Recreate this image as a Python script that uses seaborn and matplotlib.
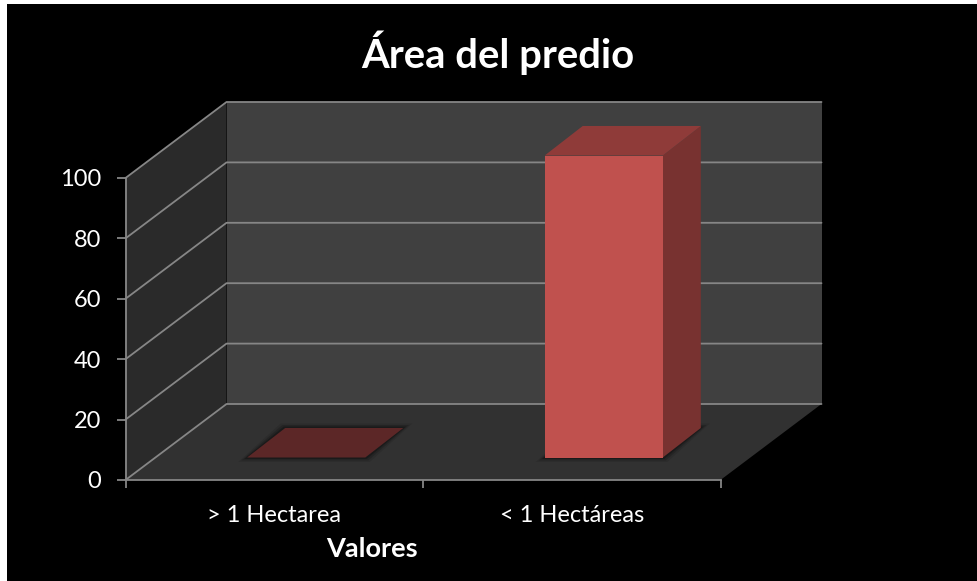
import matplotlib
matplotlib.use("Agg")
import matplotlib.pyplot as plt
import matplotlib.transforms as mtrans
from matplotlib.patches import Polygon, Rectangle
import seaborn as sns

# Data

categories = ["> 1 Hectarea", "< 1 Hectáreas"]
values = [0, 100]
y_ticks = [0, 20, 40, 60, 80, 100]

title = "Área del predio"
x_title = "Valores"

# Colours

front_colors = ["#c0514e", "#c0514e"]
top_colors = ["#5c2727", "#8f3b39"]
side_color = "#783230"
line_color = "#868686"

# Depth of the fake 3D box, in pixels

wall_dx, wall_dy = 101, 76
bar_dx, bar_dy = 32, 22.5
face_dx, face_dy = 38, 29.5

sns.set_theme(style="white")
plt.rcParams["font.family"] = ["Lato", "DejaVu Sans"]

fig = plt.figure(figsize=(9.77, 5.81), dpi=100, facecolor="black")
ax = fig.add_axes([125.5 / 977, 1 - 480 / 581, 595 / 977, 302 / 581])
ax.set_facecolor("none")
ax.set_zorder(7)

sns.barplot(
    x=categories,
    y=values,
    hue=categories,
    palette=front_colors,
    width=0.397,
    legend=False,
    saturation=1,
    linewidth=0,
    ax=ax,
    zorder=6
)

ax.set_xlim(-0.5, 1.5)
ax.set_ylim(0, 100)


def to_px(x, y, dx=0, dy=0):
    px, py = ax.transData.transform((x, y))
    return (px + dx, py + dy)


def add_face(points, color, zorder):
    fig.add_artist(Polygon(
        points,
        closed=True,
        facecolor=color,
        edgecolor="none",
        transform=mtrans.IdentityTransform(),
        zorder=zorder
    ))


def add_line(points, zorder=3):
    xs = [p[0] for p in points]
    ys = [p[1] for p in points]
    fig.add_artist(plt.Line2D(
        xs,
        ys,
        color=line_color,
        lw=1.3,
        transform=mtrans.IdentityTransform(),
        zorder=zorder
    ))


# White strips left over at the left and top of the picture

fig.add_artist(Rectangle((0, 0), 7 / 977, 1, transform=fig.transFigure,
                         facecolor="white", edgecolor="none", zorder=0))
fig.add_artist(Rectangle((0, 1 - 4 / 581), 1, 4 / 581, transform=fig.transFigure,
                         facecolor="white", edgecolor="none", zorder=0))

# Walls and floor

x0, x1 = ax.get_xlim()
y0, y1 = ax.get_ylim()

add_face(
    [to_px(x0, y0), to_px(x0, y0, wall_dx, wall_dy),
     to_px(x0, y1, wall_dx, wall_dy), to_px(x0, y1)],
    "#2a2a2a",
    1
)
add_face(
    [to_px(x0, y0, wall_dx, wall_dy), to_px(x1, y0, wall_dx, wall_dy),
     to_px(x1, y1, wall_dx, wall_dy), to_px(x0, y1, wall_dx, wall_dy)],
    "#404040",
    1
)
add_face(
    [to_px(x0, y0), to_px(x1, y0),
     to_px(x1, y0, wall_dx, wall_dy), to_px(x0, y0, wall_dx, wall_dy)],
    "#313131",
    1
)

# Gridlines run along the side wall and then the back wall

for t in y_ticks:
    add_line([
        to_px(x0, t),
        to_px(x0, t, wall_dx, wall_dy),
        to_px(x1, t, wall_dx, wall_dy)
    ])

# Bars: the seaborn rectangles are the front faces, moved onto the floor

offset = mtrans.offset_copy(ax.transData, fig=fig, x=bar_dx, y=bar_dy, units="dots")

for bar, top_color in zip(ax.patches, top_colors):
    bar.set_transform(offset)
    bar.set_clip_on(False)

    left = bar.get_x()
    right = left + bar.get_width()
    h = bar.get_height()
    dx1, dy1 = bar_dx, bar_dy
    dx2, dy2 = bar_dx + face_dx, bar_dy + face_dy

    # soft shadow on the floor
    for grow, alpha in [(9, 0.1), (6, 0.16), (3, 0.25)]:
        add_face(
            [to_px(left, 0, dx1 - grow, dy1 - grow / 2),
             to_px(right, 0, dx1 + grow / 2, dy1 - grow / 2),
             to_px(right, 0, dx2 + grow, dy2 + grow / 2),
             to_px(left, 0, dx2 - grow / 2, dy2 + grow / 2)],
            (0, 0, 0, alpha),
            4
        )

    if h > 0:
        add_face(
            [to_px(right, 0, dx1, dy1), to_px(right, 0, dx2, dy2),
             to_px(right, h, dx2, dy2), to_px(right, h, dx1, dy1)],
            side_color,
            5
        )
    add_face(
        [to_px(left, h, dx1, dy1), to_px(right, h, dx1, dy1),
         to_px(right, h, dx2, dy2), to_px(left, h, dx2, dy2)],
        top_color,
        5
    )

# Axes

sns.despine(ax=ax, top=True, right=True)

for side in ["left", "bottom"]:
    ax.spines[side].set_color(line_color)
    ax.spines[side].set_linewidth(1.3)

ax.set_yticks(y_ticks)
ax.set_xticks([-0.5, 0.5, 1.5], labels=["", "", ""])
ax.set_xticks([0, 1], labels=categories, minor=True)

ax.tick_params(axis="y", length=6.5, width=1.3, color=line_color,
               labelcolor="white", labelsize=17, left=True, pad=11)
ax.tick_params(axis="x", which="major", length=6, width=1.3,
               color=line_color, bottom=True)
ax.tick_params(axis="x", which="minor", length=0, labelcolor="white",
               labelsize=17, pad=18)

ax.set_xlabel("")
ax.set_ylabel("")

fig.text(498 / 977, 1 - 53 / 581, title, color="white", fontsize=28.8,
         fontweight="bold", ha="center", va="center", zorder=10)
fig.text(372 / 977, 1 - 549 / 581, x_title, color="white", fontsize=19.5,
         fontweight="bold", ha="center", va="center", zorder=10)

plt.savefig("out.png", dpi=100, facecolor="black")
